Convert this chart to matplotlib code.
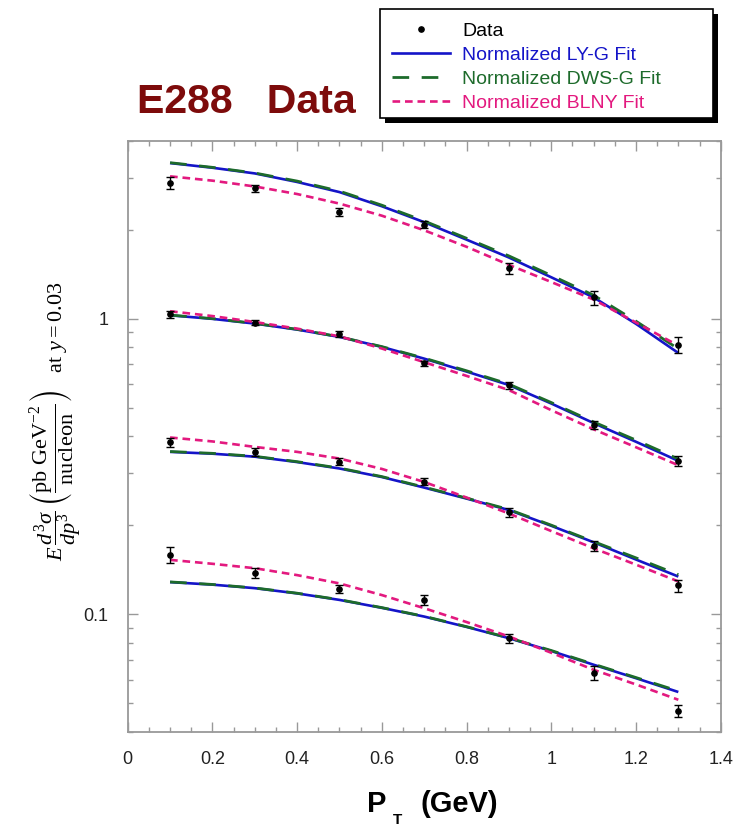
import matplotlib
matplotlib.use("Agg")
import matplotlib.pyplot as plt
from matplotlib.lines import Line2D
from matplotlib.patches import Rectangle
from matplotlib.ticker import MultipleLocator, LogLocator, NullFormatter, FuncFormatter

plt.rcParams['font.family'] = ['Liberation Sans', 'DejaVu Sans']
plt.rcParams['mathtext.fontset'] = 'custom'
plt.rcParams['mathtext.rm'] = 'Liberation Serif'
plt.rcParams['mathtext.it'] = 'Liberation Serif:italic'
plt.rcParams['mathtext.bf'] = 'Liberation Sans:bold'
plt.rcParams['mathtext.fallback'] = 'stix'
plt.rcParams['lines.scale_dashes'] = False

# measured points (pT in GeV)
pt_data = [0.1, 0.3, 0.5, 0.7, 0.9, 1.1, 1.3]
data_1 = [2.88, 2.76, 2.30, 2.08, 1.48, 1.18, 0.817]
err_1 = [0.126, 0.08, 0.075, 0.054, 0.066, 0.064, 0.05]
data_2 = [1.034, 0.969, 0.890, 0.705, 0.595, 0.438, 0.330]
err_2 = [0.027, 0.019, 0.021, 0.015, 0.016, 0.014, 0.012]
data_3 = [0.381, 0.354, 0.328, 0.281, 0.221, 0.170, 0.125]
err_3 = [0.014, 0.011, 0.009, 0.008, 0.0073, 0.0063, 0.0058]
data_4 = [0.1586, 0.1376, 0.1218, 0.1117, 0.0829, 0.0632, 0.0471]
err_4 = [0.0095, 0.0055, 0.004, 0.0045, 0.0028, 0.0034, 0.0021]

pt_fit = [0.1, 0.2, 0.3, 0.4, 0.5, 0.6, 0.7, 0.8, 0.9, 1.0, 1.1, 1.2, 1.3]
ly_1 = [3.36, 3.24, 3.10, 2.90, 2.68, 2.40, 2.12, 1.85, 1.61, 1.38, 1.18, 0.96, 0.765]
ly_2 = [1.026, 0.998, 0.962, 0.918, 0.867, 0.802, 0.732, 0.662, 0.596, 0.516, 0.443, 0.383, 0.330]
ly_3 = [0.354, 0.349, 0.341, 0.327, 0.311, 0.291, 0.268, 0.246, 0.225, 0.199, 0.175, 0.153, 0.134]
ly_4 = [0.1283, 0.1258, 0.1224, 0.1175, 0.1117, 0.1050, 0.0981, 0.0905, 0.0829, 0.0750, 0.0674, 0.0607, 0.0545]

dws_1 = [3.37, 3.25, 3.11, 2.92, 2.70, 2.42, 2.14, 1.87, 1.63, 1.40, 1.20, 0.98, 0.79]
dws_2 = [1.028, 1.000, 0.964, 0.920, 0.868, 0.804, 0.735, 0.666, 0.600, 0.520, 0.447, 0.388, 0.335]
dws_3 = [0.355, 0.350, 0.342, 0.328, 0.312, 0.292, 0.269, 0.247, 0.226, 0.200, 0.176, 0.155, 0.136]
dws_4 = [0.1285, 0.1260, 0.1226, 0.1177, 0.1119, 0.1052, 0.0983, 0.0907, 0.0831, 0.0753, 0.0677, 0.0610, 0.0549]

blny_1 = [3.03, 2.93, 2.80, 2.64, 2.45, 2.23, 1.99, 1.75, 1.52, 1.33, 1.16, 0.97, 0.81]
blny_2 = [1.059, 1.020, 0.974, 0.925, 0.871, 0.792, 0.712, 0.640, 0.573, 0.490, 0.422, 0.367, 0.319]
blny_3 = [0.396, 0.384, 0.368, 0.354, 0.336, 0.310, 0.280, 0.248, 0.219, 0.191, 0.167, 0.147, 0.129]
blny_4 = [0.1526, 0.1480, 0.1430, 0.1355, 0.1270, 0.1160, 0.1047, 0.0940, 0.0840, 0.0740, 0.0648, 0.0578, 0.0513]

legend_labels = ['Data', 'Normalized LY-G Fit', 'Normalized DWS-G Fit', 'Normalized BLNY Fit']

BLUE = '#1414c8'
GREEN = '#1d6b2b'
PINK = '#e3197f'
GRAY = '#999999'

W, H = 733, 827
fig = plt.figure(figsize=(W / 100, H / 100), dpi=100)
ax = fig.add_axes([127.7 / W, 1 - 731.7 / H, 593 / W, 591 / H])

for ly in [ly_1, ly_2, ly_3, ly_4]:
    ax.plot(pt_fit, ly, color=BLUE, lw=1.9, solid_capstyle='butt')
for dws in [dws_1, dws_2, dws_3, dws_4]:
    ax.plot(pt_fit, dws, color=GREEN, lw=2.0, dashes=(12, 9))
for blny in [blny_1, blny_2, blny_3, blny_4]:
    ax.plot(pt_fit, blny, color=PINK, lw=1.9, dashes=(5.5, 3.5))

for d, e in zip([data_1, data_2, data_3, data_4], [err_1, err_2, err_3, err_4]):
    ax.errorbar(pt_data, d, yerr=e, fmt='o', color='black', ms=3.8,
                elinewidth=1.0, capsize=2.9, capthick=1.0, zorder=5)

ax.set_yscale('log')
ax.set_xlim(0, 1.4)
ax.set_ylim(0.04, 4)

ax.xaxis.set_major_locator(MultipleLocator(0.2))
ax.xaxis.set_minor_locator(MultipleLocator(0.05))
ax.xaxis.set_major_formatter(FuncFormatter(lambda v, p: f'{v:g}'))
ax.yaxis.set_major_locator(LogLocator(base=10))
ax.yaxis.set_minor_locator(LogLocator(base=10, subs=[2, 3, 4, 5, 6, 7, 8, 9]))
ax.yaxis.set_major_formatter(FuncFormatter(lambda v, p: f'{v:g}'))
ax.yaxis.set_minor_formatter(NullFormatter())

ax.tick_params(which='both', direction='in', top=True, right=True, color=GRAY,
               width=1.0, labelsize=13, labelcolor='#222222', pad=14)
ax.tick_params(which='major', length=7)
ax.tick_params(which='minor', length=3.6)
for s in ax.spines.values():
    s.set_color(GRAY)
    s.set_linewidth(1.3)

# title
fig.text(137 / W, 1 - 113 / H, 'E288   Data', fontsize=29.5, fontweight='bold',
         color='#7d0b0b', ha='left', va='baseline')

# x label
fig.text(367 / W, 1 - 812 / H, 'P', fontsize=21, fontweight='bold', ha='left', va='baseline')
fig.text(393 / W, 1 - 824 / H, 'T', fontsize=11, fontweight='bold', ha='left', va='baseline')
fig.text(420 / W, 1 - 812 / H, '(GeV)', fontsize=21, fontweight='bold', ha='left', va='baseline')

# y label
fig.text(55 / W, 1 - 421 / H,
         r'$E\,\dfrac{d^{3}\sigma}{dp^{3}}\;\left(\dfrac{\mathrm{pb\ GeV^{-2}}}{\mathrm{nucleon}}\right)$'
         + '   at ' + r'$y = 0.03$',
         fontsize=16, fontfamily='Liberation Serif', rotation=90, ha='center', va='center')

# legend box with offset shadow
bx0, by0, bx1, by1 = 380, 9, 713, 118
fig.patches.append(Rectangle(((bx0 + 5) / W, 1 - (by1 + 5) / H), (bx1 - bx0) / W, (by1 - by0) / H,
                             transform=fig.transFigure, facecolor='black', edgecolor='none', zorder=1))
fig.patches.append(Rectangle((bx0 / W, 1 - by1 / H), (bx1 - bx0) / W, (by1 - by0) / H,
                             transform=fig.transFigure, facecolor='white', edgecolor='black',
                             lw=1.2, zorder=2))

handles = [Line2D([], [], ls='none', marker='o', color='black', ms=3.8),
           Line2D([], [], color=BLUE, lw=1.9),
           Line2D([], [], color=GREEN, lw=2.0, dashes=(12, 9)),
           Line2D([], [], color=PINK, lw=1.9, dashes=(5.5, 3.5))]
fig.legend(handles, legend_labels, loc='upper left', bbox_to_anchor=(392 / W, 1 - 22 / H),
           frameon=False, fontsize=14, handlelength=3.0, handletextpad=0.62,
           borderpad=0, borderaxespad=0, labelspacing=0.34,
           labelcolor=['black', BLUE, GREEN, PINK])

fig.savefig('out.png', dpi=100)
